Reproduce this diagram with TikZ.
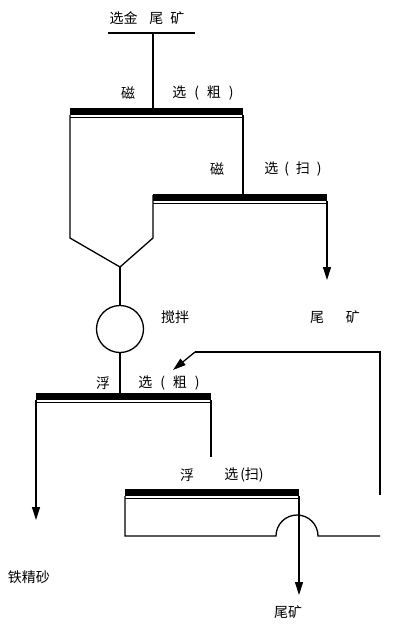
\documentclass[tikz,border=0pt]{standalone}
\usepackage{fontspec}
\newfontfamily\cjk{Noto Sans CJK SC}
\usetikzlibrary{arrows.meta}
\begin{document}
\begin{tikzpicture}[x=1pt,y=-1pt,line width=1.3pt,
  lbl/.style={font=\cjk\fontsize{14}{14}\selectfont,inner sep=0pt},
  arr/.style={-{Triangle[width=8pt,length=13pt]}},
  thinbar/.style={line width=0.9pt}]
\useasboundingbox (0,0) rectangle (418,625);
% feed
\node[lbl] (feed) at (147,18) {选金\hspace{12pt}尾\hspace{7pt}矿};
\coordinate (fL) at (108,33);
\coordinate (fR) at (195,33);
\coordinate (fM) at (153,33);
\coordinate (r1in) at (153,108);
\draw (fL) -- (fR);
\draw (fM) -- (r1in);
% rough magnetic
\node[lbl] (m1a) at (128,93) {磁};
\node[lbl] (m1b) at (203,93) {选\hspace{8pt}(\hspace{8pt}粗\hspace{8pt})};
\fill (70,108) rectangle (243,115);
\draw[thinbar] (70,117.5) -- (243,117.5);
\coordinate (coneL) at (70,238);
\coordinate (cone) at (120,267);
\coordinate (coneR) at (153,238);
\coordinate (s1in) at (153,195);
\draw (70,115) -- (coneL) -- (cone) -- (coneR) -- (s1in);
\draw (243,115) -- (243,195);
% scavenger magnetic
\node[lbl] (m2a) at (217,169) {磁};
\node[lbl] (m2b) at (293,169) {选\hspace{6pt}(\hspace{7pt}扫\hspace{7pt})};
\fill (153,194) rectangle (327,201);
\draw[thinbar] (153,203.5) -- (327,203.5);
\coordinate (t1) at (327,201);
\coordinate (t1end) at (327,280);
\draw[arr] (t1) -- (t1end);
\node[lbl] (tail1) at (335,317) {尾\hspace{22pt}矿};
% mixer
\node[draw,circle,minimum width=45pt,minimum height=47pt,inner sep=0pt] (mix) at (120,329) {};
\node[lbl] (mixl) at (175,317) {搅拌};
\coordinate (f1in) at (120,393);
\draw (cone) -- (mix.north);
\draw (mix.south) -- (f1in);
% rough flotation
\node[lbl] (fl1a) at (103,383) {浮};
\node[lbl] (fl1b) at (169,383) {选\hspace{8pt}(\hspace{8pt}粗\hspace{8pt})};
\fill (36,393) rectangle (211,400);
\draw[thinbar] (36,402.5) -- (211,402.5);
\coordinate (conc) at (36,520);
\draw[arr] (36,400) -- (conc);
\node[lbl] (concl) at (29,577) {铁精砂};
\coordinate (f2in) at (211,457);
\draw (211,400) -- (f2in);
% recycle
\coordinate (rc1) at (380,495);
\coordinate (rc2) at (380,352);
\coordinate (rc3) at (195,352);
\coordinate (rc4) at (173,370);
\draw (rc1) -- (rc2) -- (rc3);
\draw[arr] (rc3) -- (rc4);
% scavenger flotation
\node[lbl] (fl2a) at (187,475) {浮};
\node[lbl] (fl2b) at (244,475) {选\hspace{2pt}(扫)};
\fill (125,489) rectangle (299,496);
\draw[thinbar] (125,498.5) -- (299,498.5);
\coordinate (ar) at (276,536);
\draw (125,496) -- (125,536) -- (ar) arc[start angle=180,end angle=0,radius=21pt] -- (380,536);
\coordinate (t2) at (299,496);
\coordinate (t2end) at (299,595);
\draw[arr] (t2) -- (t2end);
\node[lbl] (tail2) at (288,612) {尾矿};
\end{tikzpicture}
\end{document}
